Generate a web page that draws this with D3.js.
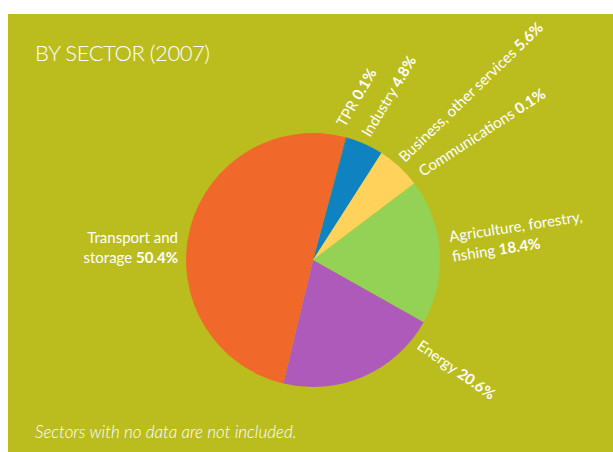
<!DOCTYPE html>
<html>
<head>
<meta charset="utf-8">
<script src="https://cdn.jsdelivr.net/npm/d3@7"></script>
<style>
  body { margin: 0; background: #fff; }
  svg text { font-family: Lato, "Open Sans", sans-serif; fill: #fff; }
</style>
</head>
<body>
<svg id="chart" width="613" height="452"></svg>
<script>
// sectors in clockwise order from the top
var sectors = ['TPR', 'Industry', 'Business, other services', 'Communications',
               'Agriculture, forestry, fishing', 'Energy', 'Transport and storage'];
var shares = [0.1, 4.8, 5.6, 0.1, 18.4, 20.6, 50.4];
var colours = ['#1a6fae', '#0f82c1', '#ffd35b', '#c9d94a', '#94d256', '#ae5abb', '#f0682a'];

// label lines (name part, value part printed bold)
var labelLines = [
  [['TPR ', '0.1%']],
  [['Industry ', '4.8%']],
  [['Business, other services ', '5.6%']],
  [['Communications ', '0.1%']],
  [['Agriculture, forestry,', ''], ['fishing ', '18.4%']],
  [['Energy ', '20.6%']],
  [['Transport and', ''], ['storage ', '50.4%']]
];

var width = 613, height = 452;
var cx = 313, cy = 260, radius = 127;

var svg = d3.select('#chart');

svg.append('rect')
    .attr('x', 8)
    .attr('y', 14)
    .attr('width', width - 8)
    .attr('height', height - 14)
    .attr('fill', '#bbbd1e');

svg.append('text')
    .attr('x', 35)
    .attr('y', 61)
    .style('font-size', '22px')
    .style('font-weight', 300)
    .attr('textLength', 175)
    .text('BY SECTOR (2007)');

svg.append('text')
    .attr('x', 35)
    .attr('y', 438)
    .style('font-size', '17px')
    .style('font-style', 'italic')
    .style('font-weight', 300)
    .text('Sectors with no data are not included.');

var pie = d3.pie()
    .sort(null)
    .value(function(d) { return d; })
    .startAngle(15 * Math.PI / 180)
    .endAngle(15 * Math.PI / 180 + 2 * Math.PI);

var arc = d3.arc().innerRadius(0).outerRadius(radius);

var g = svg.append('g')
    .attr('transform', 'translate(' + cx + ',' + cy + ')');

var arcs = pie(shares);

g.selectAll('path')
    .data(arcs)
    .enter()
    .append('path')
    .attr('d', arc)
    .attr('fill', function(d, i) { return colours[i]; });

// hand placed label spots, relative to the pie centre
var labelSpots = [
  {x: 32, y: -132, rotate: -60, anchor: 'start'},
  {x: 57, y: -122, rotate: -59, anchor: 'start'},
  {x: 92, y: -97, rotate: -44, anchor: 'start'},
  {x: 110, y: -83, rotate: -33, anchor: 'start'},
  {x: 137, y: -18, rotate: -8.7, anchor: 'start'},
  {x: 103, y: 88, rotate: 35, anchor: 'start'},
  {x: -135, y: -17, rotate: 0, anchor: 'end'}
];

var labels = g.selectAll('g.label')
    .data(arcs)
    .enter()
    .append('g')
    .attr('class', 'label')
    .attr('transform', function(d, i) {
      var s = labelSpots[i];
      return 'translate(' + s.x + ',' + s.y + ') rotate(' + s.rotate + ')';
    });

labels.each(function(d, i) {
  var t = d3.select(this).append('text')
      .attr('text-anchor', labelSpots[i].anchor)
      .style('font-size', '15px');
  labelLines[i].forEach(function(line, j) {
    t.append('tspan')
        .attr('x', 0)
        .attr('y', j * 20)
        .text(line[0]);
    if (line[1]) {
      t.append('tspan')
          .style('font-weight', 'bold')
          .text(line[1]);
    }
  });
});
</script>
</body>
</html>
